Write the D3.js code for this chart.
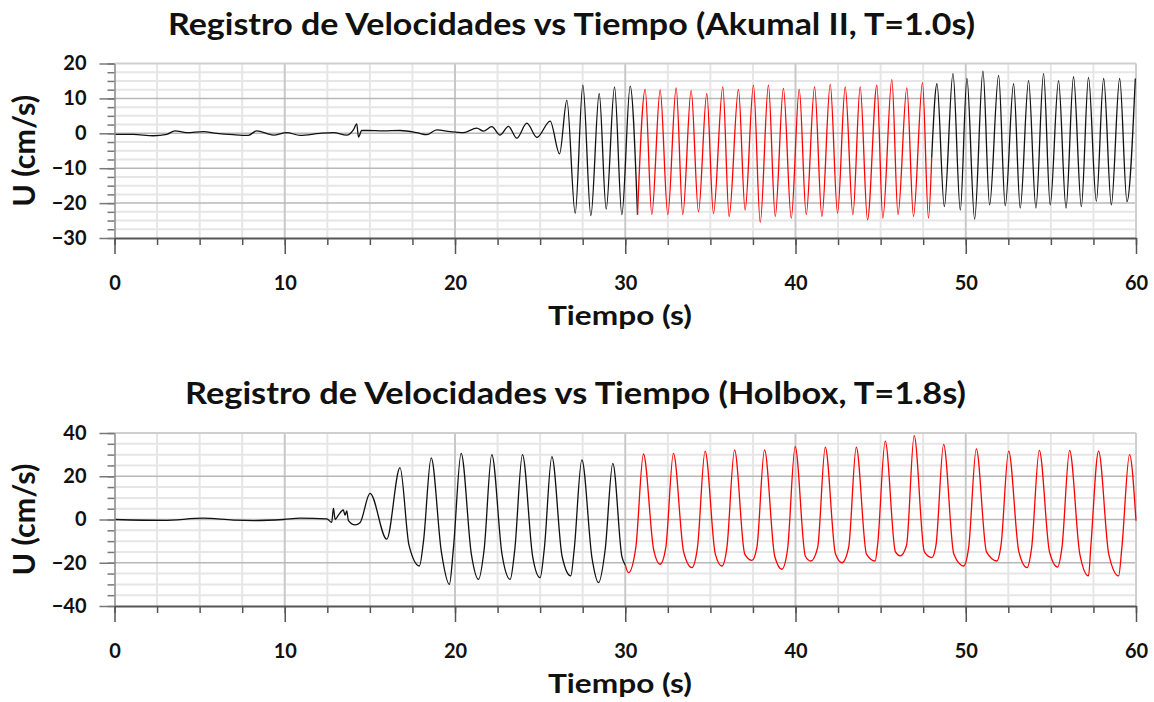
<!DOCTYPE html>
<html><head><meta charset="utf-8">
<script src="https://cdn.jsdelivr.net/npm/d3@7"></script>
<style>body{margin:0;background:#fff}svg{display:block}</style>
</head><body>
<svg id="chart" width="1154" height="702"></svg>
<script>
// ---------- DATA ----------
const xTickValues = [0, 10, 20, 30, 40, 50, 60];
const topYTickValues = [-30, -20, -10, 0, 10, 20];
const botYTickValues = [-40, -20, 0, 20, 40];
const topTitle = "Registro de Velocidades vs Tiempo (Akumal II, T=1.0s)";
const botTitle = "Registro de Velocidades vs Tiempo (Holbox, T=1.8s)";
const xLabel = "Tiempo (s)";
const yLabel = "U (cm/s)";

// Akumal II, T=1.0s : black part (0 - 30.7 s)
const akBlack1T = [0.02, 1.1, 2.28, 3.07, 3.55, 4.24, 5.22, 6.0, 6.98, 7.86, 8.35, 9.33, 10.12, 10.9, 12.07, 12.86, 13.64, 14.03, 14.23, 14.33, 14.52, 14.82, 15.8, 16.77, 17.75, 18.34, 18.93, 19.71, 20.49, 21.28, 21.67, 22.16, 22.65, 23.14, 23.63, 24.22, 24.81, 25.59, 26.14, 26.57, 27.06, 27.51, 27.98, 28.47, 28.88, 29.37, 29.80, 30.29, 30.72];
const akBlack1U = [-0.3, -0.3, -0.7, -0.3, 0.7, 0.2, 0.5, 0.0, -0.4, -0.6, 0.7, -0.5, 0.2, -0.6, 0.0, 0.2, -0.5, 1.0, 2.7, -1.1, 0.8, 0.8, 0.7, 0.8, 0.2, -0.4, 1.0, 0.5, 0.2, 1.5, 0.6, 1.9, -0.5, 2.0, -1.4, 2.9, -1.2, 3.5, -5.9, 9.5, -22.9, 13.8, -23.6, 11.4, -21.7, 13.3, -23.3, 13.5, -23.3];
// red part (30.7 - 48 s)
const akRedT = [30.72, 31.17, 31.56, 32.05, 32.50, 32.99, 33.38, 33.87, 34.30, 34.79, 35.18, 35.73, 36.10, 36.65, 37.04, 37.53, 37.93, 38.41, 38.81, 39.29, 39.75, 40.22, 40.63, 41.12, 41.55, 42.04, 42.47, 42.92, 43.37, 43.80, 44.23, 44.78, 45.13, 45.66, 46.02, 46.54, 46.93, 47.46, 47.81, 48.0];
const akRedU = [-23.3, 12.6, -23.3, 12.4, -23.3, 13.0, -23.3, 12.3, -22.5, 11.4, -23.0, 13.3, -23.8, 12.6, -22.0, 13.8, -25.5, 13.8, -23.8, 12.9, -24.3, 12.6, -23.3, 13.3, -23.8, 14.0, -22.9, 13.3, -23.3, 13.3, -24.8, 13.8, -24.3, 15.4, -23.3, 13.0, -23.8, 14.5, -24.3, -7.0];
// black part (48 - 60 s)
const akBlack2T = [48.0, 48.31, 48.74, 49.25, 49.68, 50.07, 50.52, 51.01, 51.40, 51.93, 52.32, 52.81, 53.20, 53.69, 54.12, 54.57, 54.96, 55.45, 55.89, 56.33, 56.79, 57.21, 57.67, 58.10, 58.55, 59.04, 59.47, 59.96];
const akBlack2U = [-7.0, 14.2, -21.0, 17.1, -22.0, 15.7, -24.6, 17.8, -20.5, 16.6, -20.8, 14.2, -21.4, 15.1, -21.4, 17.1, -20.5, 15.1, -21.4, 16.2, -21.0, 16.0, -19.5, 15.7, -20.5, 15.7, -19.6, 15.7];

// Holbox, T=1.8s : black part (0 - 30 s)
const hoBlackT = [0, 2.9, 5.22, 6.98, 8.16, 9.92, 10.9, 12.47, 12.76, 12.86, 12.96, 13.15, 13.44, 13.54, 13.64, 13.74, 14.13, 14.42, 15.01, 15.99, 16.77, 17.3, 17.91, 18.15, 18.6, 19.2, 19.67, 19.91, 20.36, 20.96, 21.38, 21.71, 22.16, 22.76, 23.24, 23.51, 23.96, 24.56, 25.0, 25.24, 25.69, 26.29, 26.8, 27.0, 27.45, 28.05, 28.43, 28.82, 29.27, 29.8, 30.0];
const hoBlackU = [0, -0.4, 0.6, -0.3, -0.5, 0, 0.6, 0.3, -1.3, 5.3, 0, 2.0, 4.4, 2.0, 4.0, -0.5, -2.5, -1.5, 12.1, -9.1, 24.0, -12, -21.5, -10, 28.5, -15, -30.0, -13, 30.6, -16, -27.7, -14, 30.0, -16, -27.7, -14, 30.0, -17, -26.9, -14, 29.1, -17, -26.1, -14, 27.6, -18, -29.2, -14, 26.0, -17, -21];
// red part (30 - 60 s)
const hoRedT = [30.0, 30.19, 30.62, 31.07, 31.67, 32.05, 32.38, 32.83, 33.43, 33.91, 34.24, 34.69, 35.29, 35.68, 35.97, 36.42, 37.02, 37.44, 37.73, 38.18, 38.78, 39.2, 39.53, 39.98, 40.58, 40.9, 41.3, 41.75, 42.35, 42.73, 43.12, 43.57, 44.17, 44.68, 44.82, 45.27, 45.87, 46.15, 46.52, 46.97, 47.57, 48.01, 48.25, 48.7, 49.3, 49.87, 50.17, 50.62, 51.22, 51.83, 52.07, 52.52, 53.12, 53.6, 53.87, 54.32, 54.92, 55.39, 55.65, 56.1, 56.7, 57.21, 57.35, 57.8, 58.4, 58.98, 59.17, 59.62, 60.0];
const hoRedU = [-21, -24.6, -13, 30.3, -14, -20.7, -13, 30.6, -15, -22.3, -13, 31.6, -16, -21.5, -13, 32.2, -16, -18.9, -13, 32.2, -17, -23.0, -14, 33.7, -17, -19.2, -13, 33.4, -16, -20.0, -13, 33.4, -16, -19.2, -12, 36.2, -15, -16.8, -12, 38.8, -15, -17.6, -12, 34.7, -16, -21.5, -13, 32.7, -15, -19.2, -12, 31.6, -15, -22.3, -13, 32.0, -15, -22.0, -13, 32.0, -16, -26.1, -12, 31.6, -16, -26.1, -13, 30.0, -0.6];

// ---------- DRAWING ----------
const svg = d3.select("#chart");
const FONT = "Lato, 'Open Sans', sans-serif";
const TXT = "#111";

function panel(cfg) {
  const x = d3.scaleLinear().domain([0, 60]).range([114.5, 1136]);
  const y = d3.scaleLinear().domain(cfg.yDomain).range([cfg.bottom, cfg.top]);
  const g = svg.append("g");

  const xMinor = d3.range(0, 60.01, 2.5);
  const yMinor = d3.range(cfg.yDomain[0], cfg.yDomain[1] + 0.01, cfg.yMinorStep);

  // minor vertical grid
  g.selectAll(".vgm").data(xMinor.filter(v => v % 10 !== 0)).join("line")
    .attr("x1", d => x(d)).attr("x2", d => x(d)).attr("y1", cfg.top).attr("y2", cfg.bottom)
    .attr("stroke", "#e6e6e6").attr("stroke-width", 2);
  // minor horizontal grid
  g.selectAll(".hgm").data(yMinor.filter(v => !cfg.yTicks.includes(v))).join("line")
    .attr("x1", x(0)).attr("x2", x(60)).attr("y1", d => y(d)).attr("y2", d => y(d))
    .attr("stroke", "#e6e6e6").attr("stroke-width", 2);
  // major vertical grid
  g.selectAll(".vg").data(xTickValues.filter(v => v > 0 && v < 60)).join("line")
    .attr("x1", d => x(d)).attr("x2", d => x(d)).attr("y1", cfg.top).attr("y2", cfg.bottom)
    .attr("stroke", "#c8c8c8").attr("stroke-width", 2);
  // major horizontal grid
  g.selectAll(".hg").data(cfg.yTicks.filter(v => v > cfg.yDomain[0] && v < cfg.yDomain[1])).join("line")
    .attr("x1", x(0)).attr("x2", x(60)).attr("y1", d => y(d)).attr("y2", d => y(d))
    .attr("stroke", "#b8b8b8").attr("stroke-width", 1.5);
  // top and right border
  g.append("line").attr("x1", x(0)).attr("x2", x(60)).attr("y1", cfg.top).attr("y2", cfg.top)
    .attr("stroke", "#cfcfcf").attr("stroke-width", 2);
  g.append("line").attr("x1", x(60)).attr("x2", x(60)).attr("y1", cfg.top).attr("y2", cfg.bottom)
    .attr("stroke", "#cfcfcf").attr("stroke-width", 2);

  // series
  const line = d3.line().x(d => x(d[0])).y(d => y(d[1])).curve(d3.curveMonotoneX);
  cfg.series.forEach(s => {
    g.append("path").datum(d3.zip(s.t, s.u)).attr("d", line)
      .attr("fill", "none").attr("stroke", s.color).attr("stroke-width", 1.3)
      .attr("stroke-linejoin", "round");
  });

  // y axis minor ticks
  g.append("g").attr("transform", `translate(${x(0)},0)`)
    .call(d3.axisLeft(y).tickValues(yMinor).tickSize(7).tickFormat(""))
    .call(a => a.select(".domain").remove())
    .call(a => a.selectAll("line").attr("stroke", "#777").attr("stroke-width", 1.5));
  // y axis major
  g.append("g").attr("transform", `translate(${x(0)},0)`)
    .call(d3.axisLeft(y).tickValues(cfg.yTicks).tickSize(15).tickPadding(13).tickSizeOuter(0))
    .call(a => a.select(".domain").attr("stroke", "#888").attr("stroke-width", 1.5))
    .call(a => a.selectAll("line").attr("stroke", "#777").attr("stroke-width", 1.5))
    .call(a => a.selectAll("text").attr("font-family", FONT).attr("font-weight", "bold")
      .attr("font-size", 20).attr("fill", TXT));

  // x axis minor ticks
  g.append("g").attr("transform", `translate(0,${cfg.bottom})`)
    .call(d3.axisBottom(x).tickValues(xMinor).tickSize(7).tickFormat(""))
    .call(a => a.select(".domain").remove())
    .call(a => a.selectAll("line").attr("stroke", "#555").attr("stroke-width", 1.5));
  // x axis major
  g.append("g").attr("transform", `translate(0,${cfg.bottom})`)
    .call(d3.axisBottom(x).tickValues(xTickValues).tickSize(16).tickPadding(22).tickSizeOuter(0))
    .call(a => a.select(".domain").attr("stroke", "#555").attr("stroke-width", 2))
    .call(a => a.selectAll("line").attr("stroke", "#555").attr("stroke-width", 1.5))
    .call(a => a.selectAll("text").attr("font-family", FONT).attr("font-weight", "bold")
      .attr("font-size", 20).attr("fill", TXT));

  // title
  svg.append("text").attr("x", cfg.titleX).attr("y", cfg.titleY)
    .attr("textLength", cfg.titleW).attr("lengthAdjust", "spacingAndGlyphs")
    .attr("font-family", FONT).attr("font-weight", "bold").attr("font-size", 30)
    .attr("fill", TXT).text(cfg.title);
  // x label
  svg.append("text").attr("x", 548).attr("y", cfg.bottom + 87)
    .attr("textLength", 144).attr("lengthAdjust", "spacingAndGlyphs")
    .attr("font-family", FONT).attr("font-weight", "bold").attr("font-size", 26)
    .attr("fill", TXT).text(xLabel);
  // y label
  const cy = (cfg.top + cfg.bottom) / 2;
  svg.append("text").attr("transform", `translate(35,${cy + 56}) rotate(-90)`)
    .attr("x", 0).attr("y", 0)
    .attr("textLength", 112).attr("lengthAdjust", "spacingAndGlyphs")
    .attr("font-family", FONT).attr("font-weight", "bold").attr("font-size", 30)
    .attr("fill", TXT).text(yLabel);
}

panel({
  top: 63.5, bottom: 238, yDomain: [-30, 20], yTicks: topYTickValues, yMinorStep: 2.5,
  title: topTitle, titleX: 168, titleY: 35, titleW: 807,
  series: [
    {t: akBlack1T, u: akBlack1U, color: "#111"},
    {t: akRedT, u: akRedU, color: "#ff0000"},
    {t: akBlack2T, u: akBlack2U, color: "#111"}
  ]
});
panel({
  top: 433, bottom: 606, yDomain: [-40, 40], yTicks: botYTickValues, yMinorStep: 5,
  title: botTitle, titleX: 185, titleY: 404, titleW: 781,
  series: [
    {t: hoBlackT, u: hoBlackU, color: "#111"},
    {t: hoRedT, u: hoRedU, color: "#ff0000"}
  ]
});
</script>
</body></html>
